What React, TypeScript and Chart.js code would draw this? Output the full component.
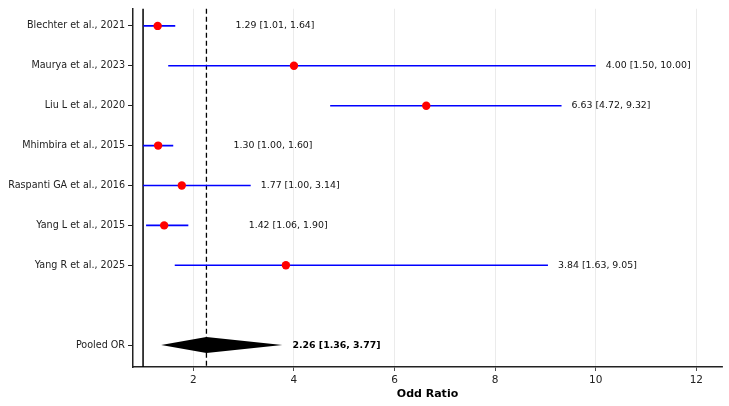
import React, { useEffect, useRef } from "react";
import { Chart, registerables } from "chart.js";
Chart.register(...registerables);

const studies = [
  "Blechter et al., 2021",
  "Maurya et al., 2023",
  "Liu L et al., 2020",
  "Mhimbira et al., 2015",
  "Raspanti GA et al., 2016",
  "Yang L et al., 2015",
  "Yang R et al., 2025",
];
const oddsRatios = [1.29, 4.0, 6.63, 1.3, 1.77, 1.42, 3.84];
const lowerCI = [1.01, 1.5, 4.72, 1.0, 1.0, 1.06, 1.63];
const upperCI = [1.64, 10.0, 9.32, 1.6, 3.14, 1.9, 9.05];
const pooledLabel = "Pooled OR";
const pooledOR = 2.26;
const pooledLower = 1.36;
const pooledUpper = 3.77;
const pooledRow = 8;
const xTicks = [2, 4, 6, 8, 10, 12];
const nullValue = 1;

const FONT = "'DejaVu Sans', sans-serif";
const fmt = (v: number) => v.toFixed(2);

export default function App() {
  const ref = useRef<HTMLCanvasElement | null>(null);
  useEffect(() => {
    if (!ref.current) return;
    const ciDatasets = studies.map((_, i) => ({
      type: "line" as const,
      data: [
        { x: lowerCI[i], y: i },
        { x: upperCI[i], y: i },
      ],
      borderColor: "#0000ff",
      borderWidth: 1.6,
      pointRadius: 0,
      order: 2,
    }));
    const overlay = {
      id: "forestOverlay",
      beforeDatasetsDraw(chart: any) {
        const { ctx, chartArea, scales } = chart;
        const xs = scales.x;
        ctx.save();
        ctx.strokeStyle = "#000";
        ctx.lineWidth = 1.5;
        const x1 = xs.getPixelForValue(nullValue);
        ctx.beginPath();
        ctx.moveTo(x1, chartArea.top);
        ctx.lineTo(x1, chartArea.bottom);
        ctx.stroke();
        ctx.setLineDash([5, 3]);
        ctx.lineWidth = 1.3;
        const x2 = xs.getPixelForValue(pooledOR);
        ctx.beginPath();
        ctx.moveTo(x2, chartArea.top);
        ctx.lineTo(x2, chartArea.bottom);
        ctx.stroke();
        ctx.restore();
      },
      afterDatasetsDraw(chart: any) {
        const { ctx, scales } = chart;
        const xs = scales.x;
        const ys = scales.y;
        ctx.save();
        const yc = ys.getPixelForValue(pooledRow);
        const yt = ys.getPixelForValue(pooledRow - 0.2);
        const yb = ys.getPixelForValue(pooledRow + 0.2);
        ctx.fillStyle = "#000";
        ctx.beginPath();
        ctx.moveTo(xs.getPixelForValue(pooledLower), yc);
        ctx.lineTo(xs.getPixelForValue(pooledOR), yt);
        ctx.lineTo(xs.getPixelForValue(pooledUpper), yc);
        ctx.lineTo(xs.getPixelForValue(pooledOR), yb);
        ctx.closePath();
        ctx.fill();
        ctx.textBaseline = "middle";
        ctx.textAlign = "left";
        ctx.fillStyle = "#111";
        ctx.font = `9.4px ${FONT}`;
        studies.forEach((_, i) => {
          const tx = upperCI[i] < pooledOR ? upperCI[i] + 1.2 : upperCI[i] + 0.2;
          ctx.fillText(
            `${fmt(oddsRatios[i])} [${fmt(lowerCI[i])}, ${fmt(upperCI[i])}]`,
            xs.getPixelForValue(tx),
            ys.getPixelForValue(i)
          );
        });
        ctx.fillStyle = "#000";
        ctx.font = `bold 9.4px ${FONT}`;
        ctx.fillText(
          `${fmt(pooledOR)} [${fmt(pooledLower)}, ${fmt(pooledUpper)}]`,
          xs.getPixelForValue(pooledUpper + 0.2),
          yc
        );
        ctx.restore();
      },
    };
    const chart = new Chart(ref.current, {
      type: "scatter",
      data: {
        datasets: [
          {
            type: "scatter" as const,
            data: studies.map((_, i) => ({ x: oddsRatios[i], y: i })),
            backgroundColor: "#ff0000",
            borderColor: "#ff0000",
            pointRadius: 4.2,
            pointBorderWidth: 0,
            order: 1,
          },
          ...ciDatasets,
        ] as any,
      },
      options: {
        animation: false,
        responsive: false,
        maintainAspectRatio: false,
        layout: { padding: { top: 8, right: 7, left: 0, bottom: 0 } },
        plugins: {
          legend: { display: false },
          tooltip: { enabled: false },
        },
        scales: {
          x: {
            type: "linear",
            min: 0.8,
            max: 12.51,
            afterBuildTicks: (s: any) => {
              s.ticks = xTicks.map((v) => ({ value: v }));
            },
            afterFit: (s: any) => {
              s.height = 39;
            },
            ticks: {
              color: "#222",
              font: { family: FONT, size: 10.5 },
              padding: 3,
            },
            grid: {
              color: "#e6e6e6",
              lineWidth: 0.8,
              tickColor: "#222",
              tickLength: 4,
            },
            border: { display: true, color: "#222", width: 1.5 },
            title: {
              display: true,
              text: "Odd Ratio",
              color: "#000",
              font: { family: FONT, size: 11, weight: "bold" },
              padding: { top: 0, bottom: 5 },
            },
          },
          y: {
            type: "linear",
            reverse: true,
            min: -0.43,
            max: 8.55,
            afterBuildTicks: (s: any) => {
              s.ticks = [...studies.map((_, i) => i), pooledRow].map((v) => ({ value: v }));
            },
            afterFit: (s: any) => {
              s.width = 133;
            },
            ticks: {
              color: "#222",
              font: { family: FONT, size: 9.6 },
              padding: 3,
              callback: (v: any) => (v === pooledRow ? pooledLabel : studies[v as number] ?? ""),
            },
            grid: {
              drawOnChartArea: false,
              drawTicks: true,
              tickColor: "#222",
              tickLength: 5,
            },
            border: { display: true, color: "#222", width: 1.5 },
          },
        },
      },
      plugins: [overlay],
    } as any);
    return () => chart.destroy();
  }, []);
  return (
    <div style={{ position: "fixed", left: 0, top: 0, width: 729, height: 406, background: "#fff" }}>
      <canvas ref={ref} width={729} height={406} style={{ width: 729, height: 406 }} />
    </div>
  );
}
